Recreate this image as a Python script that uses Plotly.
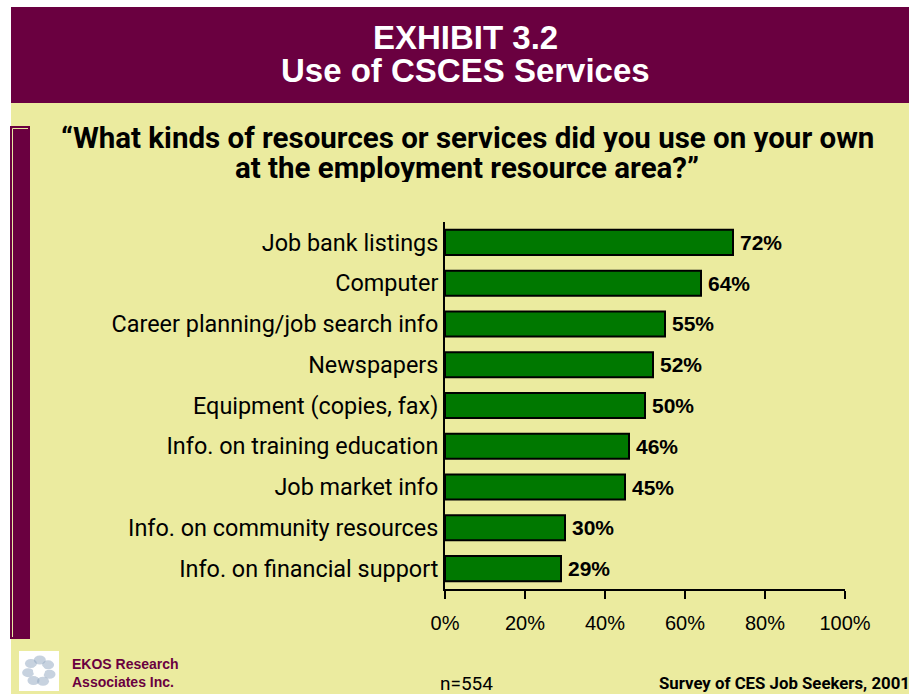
import math
import plotly.graph_objects as go

# Survey responses: share of respondents using each resource on their own
categories = [
    "Job bank listings",
    "Computer",
    "Career planning/job search info",
    "Newspapers",
    "Equipment (copies, fax)",
    "Info. on training education",
    "Job market info",
    "Info. on community resources",
    "Info. on financial support",
]
percent_used = [72, 64, 55, 52, 50, 46, 45, 30, 29]
tick_values = [0, 20, 40, 60, 80, 100]
tick_labels = ["0%", "20%", "40%", "60%", "80%", "100%"]

W, H = 909, 694
MAROON = "#6A0040"
CREAM = "#EBEB9F"
GREEN = "#007800"
NARROW = "Roboto, Liberation Sans, sans-serif"
ARIAL = "Liberation Sans, Arial, sans-serif"


def px(x):
    return x / W


def py(y):
    return 1 - y / H


fig = go.Figure()

fig.add_trace(go.Bar(
    y=categories,
    x=percent_used,
    orientation="h",
    marker=dict(color=GREEN, line=dict(color="black", width=2)),
    hoverinfo="skip",
))

shapes = [
    # page background
    dict(type="rect", xref="paper", yref="paper", x0=px(11), x1=px(W), y0=py(H), y1=py(103),
         fillcolor=CREAM, line=dict(width=0), layer="below"),
    # header band
    dict(type="rect", xref="paper", yref="paper", x0=px(11), x1=px(W), y0=py(103), y1=py(7),
         fillcolor=MAROON, line=dict(width=0), layer="below"),
    # left accent bar with its light bevel line
    dict(type="rect", xref="paper", yref="paper", x0=px(10), x1=px(30), y0=py(639), y1=py(126),
         fillcolor=MAROON, line=dict(width=0), layer="below"),
    dict(type="path", xref="paper", yref="paper",
         path=f"M {px(12.5)} {py(637)} L {px(12.5)} {py(128.5)} L {px(28)} {py(128.5)}",
         line=dict(color="#E8E8A0", width=1), layer="below"),
    # logo tile
    dict(type="rect", xref="paper", yref="paper", x0=px(19), x1=px(59), y0=py(691), y1=py(651),
         fillcolor="white", line=dict(width=0), layer="below"),
]

# swirl emblem of the logo: soft blobs arranged in a ring
cx, cy = 39, 671
for i in range(7):
    a = 2 * math.pi * i / 7 + 0.3
    bx = cx + 11 * math.cos(a)
    by = cy + 11 * math.sin(a)
    shapes.append(dict(type="circle", xref="paper", yref="paper",
                       x0=px(bx - 6), x1=px(bx + 6), y0=py(by + 4.5), y1=py(by - 4.5),
                       fillcolor="#8FA6BF", opacity=0.5, line=dict(width=0), layer="below"))
shapes.append(dict(type="circle", xref="paper", yref="paper",
                   x0=px(cx - 6), x1=px(cx + 6), y0=py(cy + 6), y1=py(cy - 6),
                   fillcolor="white", line=dict(width=0), layer="below"))


def note(text, x, y, size, family, color="black", xanchor="center", height=None):
    ann = dict(text=text, x=px(x), y=py(y), xref="paper", yref="paper",
               xanchor=xanchor, yanchor="middle", showarrow=False, borderpad=0,
               font=dict(family=family, size=size, color=color))
    if height:
        ann["height"] = height
        ann["valign"] = "middle"
    return ann


annotations = [
    note("<b>EXHIBIT 3.2</b>", 465, 38, 33, ARIAL, "white", height=31),
    note("<b>Use of CSCES Services</b>", 465, 70, 33, ARIAL, "white", height=31),
    note("<b>\u201cWhat kinds of resources or services did you use on your own</b>", 467, 137, 29.5, NARROW, height=29),
    note("<b>at the employment resource area?\u201d</b>", 467, 167, 29.5, NARROW, height=29),
    note("<b>EKOS Research</b>", 71, 664, 14, ARIAL, MAROON, "left"),
    note("<b>Associates Inc.</b>", 71, 682, 14, ARIAL, MAROON, "left"),
    note("n=554", 439, 683, 19, NARROW, "black", "left"),
    note("<b>Survey of CES Job Seekers, 2001</b>", 784, 683, 16.8, NARROW, "black", height=20),
]

# value labels placed just past the end of each bar
for cat, val in zip(categories, percent_used):
    annotations.append(dict(
        text=f"<b>{val}%</b>", x=val, y=cat, xref="x", yref="y",
        xanchor="left", yanchor="middle", xshift=5, showarrow=False,
        font=dict(family=ARIAL, size=21, color="black"),
    ))

fig.update_layout(
    width=W, height=H,
    margin=dict(l=0, r=0, t=0, b=0, autoexpand=False),
    paper_bgcolor="white",
    plot_bgcolor="rgba(0,0,0,0)",
    showlegend=False,
    bargap=0.386,
    shapes=shapes,
    annotations=annotations,
    xaxis=dict(
        domain=[px(445), px(845)],
        range=[0, 100],
        tickvals=tick_values,
        ticktext=tick_labels,
        ticks="outside", ticklen=8, tickwidth=2, tickcolor="black",
        showline=True, linecolor="black", linewidth=2,
        showgrid=False, zeroline=False, automargin=False,
        tickfont=dict(family=ARIAL, size=20, color="black"),
        ticklabelstandoff=7,
    ),
    yaxis=dict(
        domain=[py(589), py(222)],
        autorange="reversed",
        showline=True, linecolor="black", linewidth=2,
        ticks="", showgrid=False, zeroline=False, automargin=False,
        tickfont=dict(family=NARROW, size=23.4, color="black"),
    ),
)

fig.write_html("out.html")
